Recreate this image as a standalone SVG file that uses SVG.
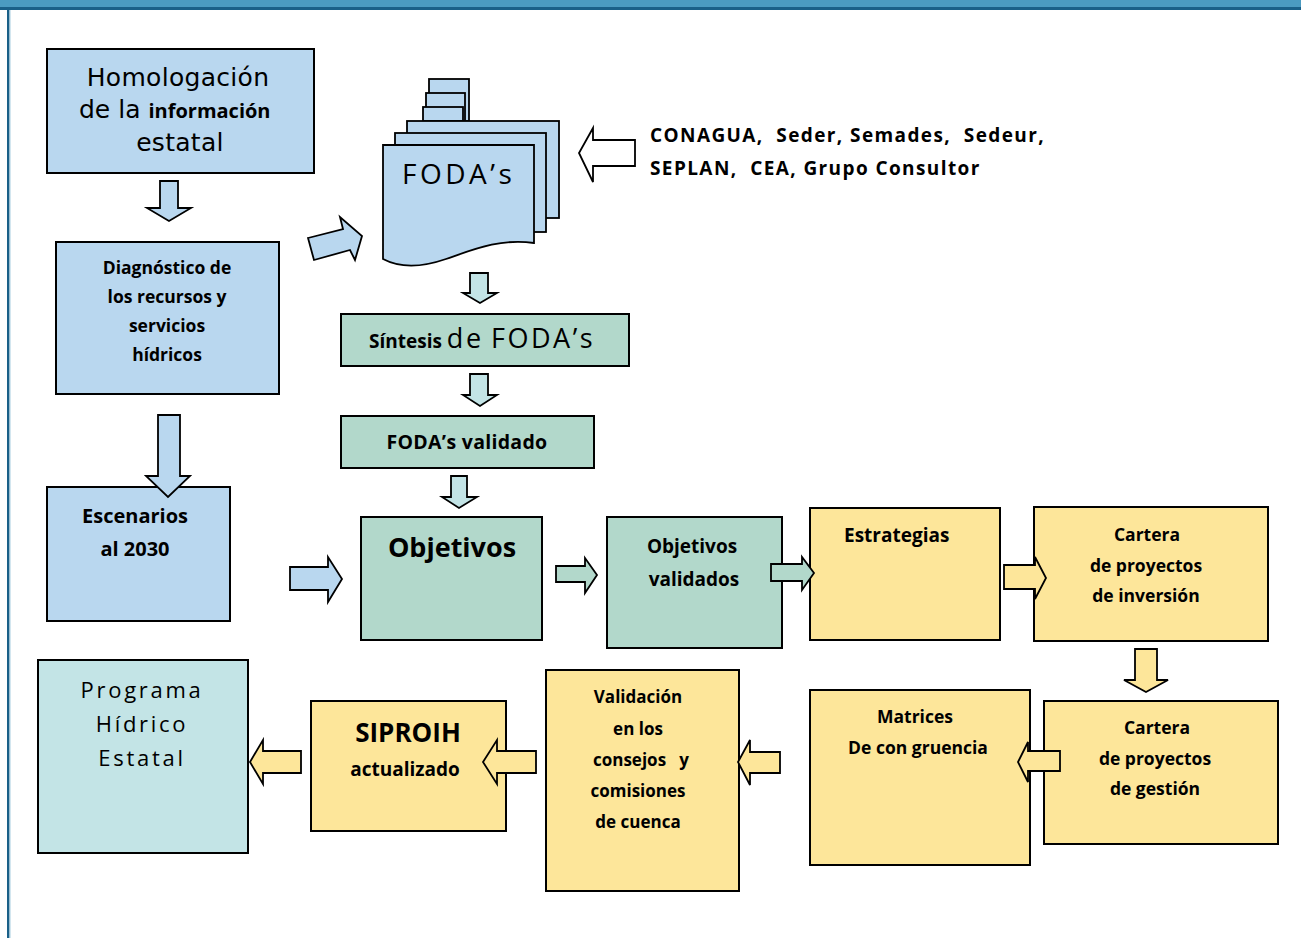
<svg xmlns="http://www.w3.org/2000/svg" width="1301" height="938" viewBox="0 0 1301 938">
<style>
.box{stroke:#000;stroke-width:2}
.blue{fill:#b9d7ef}
.mint{fill:#b2d8cb}
.cyan{fill:#c3e4e6}
.yel{fill:#fde69a}
.arr{stroke:#000;stroke-width:1.8;stroke-linejoin:miter}
.b{font-family:"Open Sans","Noto Sans",sans-serif;font-weight:700;fill:#000}
.r{font-family:"Open Sans","Noto Sans",sans-serif;font-weight:400;fill:#000}
.dv{font-family:"DejaVu Sans",sans-serif;font-weight:400;fill:#000}
.c{text-anchor:middle}
.pre{white-space:pre}
</style>
<rect x="0" y="0" width="1301" height="938" fill="#fff"/>
<rect x="0" y="0" width="1301" height="8" fill="#4b9bc1"/>
<rect x="0" y="7" width="1301" height="3" fill="#1a6088"/>
<rect x="7" y="8" width="2.5" height="930" fill="#1a6088"/>
<rect x="9.5" y="10" width="1" height="928" fill="#a8cde0"/>

<g id="homologacion">
<rect class="box blue" x="47" y="49" width="267" height="124"/>
<text class="dv c" x="178" y="86" font-size="25" letter-spacing="0.3">Homologación</text>
<text x="79" y="118"><tspan class="dv" font-size="25">de la </tspan><tspan class="b" font-size="20">información</tspan></text>
<text class="dv c" x="180" y="151" font-size="25" letter-spacing="0.3">estatal</text>
</g>

<g id="diagnostico">
<rect class="box blue" x="56" y="242" width="223" height="152"/>
<text class="b c" x="167" y="274" font-size="17.5">Diagnóstico de</text>
<text class="b c" x="167" y="303" font-size="17.5">los recursos y</text>
<text class="b c" x="167" y="332" font-size="17.5">servicios</text>
<text class="b c" x="167" y="361" font-size="17.5">hídricos</text>
</g>

<g id="fodas">
<rect class="arr blue" x="429" y="79" width="40" height="42"/>
<rect class="arr blue" x="426" y="93" width="39" height="28"/>
<rect class="arr blue" x="423" y="107" width="40" height="14"/>
<rect class="arr blue" x="407" y="121" width="152" height="97"/>
<rect class="arr blue" x="395" y="133" width="151" height="99"/>
<path class="arr blue" d="M383,145 L534,145 L534,243 C500,238 472,250 446,259 C420,268 400,268 383,259 Z"/>
<text class="r" x="402" y="184" font-size="28" letter-spacing="3.5">FODA’s</text>
</g>

<g id="fuentes">
<text class="b pre" x="650" y="142" font-size="19" letter-spacing="1.4">CONAGUA,  Seder, Semades,  Sedeur,</text>
<text class="b pre" x="650" y="175" font-size="19" letter-spacing="1.4">SEPLAN,  CEA, Grupo Consultor</text>
</g>

<g id="sintesis">
<rect class="box mint" x="341" y="314" width="288" height="52"/>
<text x="369" y="348"><tspan class="b" font-size="19">Síntesis </tspan><tspan class="r" font-size="27" letter-spacing="2.5">de</tspan><tspan class="r" font-size="27" letter-spacing="2.5" dx="-2"> FODA’s</tspan></text>
</g>

<g id="foda-validado">
<rect class="box mint" x="341" y="416" width="253" height="52"/>
<text class="b c" x="467" y="449" font-size="19.5" letter-spacing="0.3">FODA’s validado</text>
</g>

<g id="escenarios">
<rect class="box blue" x="47" y="487" width="183" height="134"/>
<text class="b c" x="135" y="523" font-size="20">Escenarios</text>
<text class="b c" x="135" y="556" font-size="20">al 2030</text>
</g>

<g id="objetivos">
<rect class="box mint" x="361" y="517" width="181" height="123"/>
<text class="b c" x="452" y="557" font-size="27">Objetivos</text>
</g>

<g id="objetivos-validados">
<rect class="box mint" x="607" y="517" width="175" height="131"/>
<text class="b c" x="692" y="553" font-size="19">Objetivos</text>
<text class="b c" x="694" y="586" font-size="19">validados</text>
</g>

<g id="estrategias">
<rect class="box yel" x="810" y="508" width="190" height="132"/>
<text class="b" x="844" y="542" font-size="19">Estrategias</text>
</g>

<g id="cartera-inversion">
<rect class="box yel" x="1034" y="507" width="234" height="134"/>
<text class="b c" x="1147" y="541" font-size="17.5">Cartera</text>
<text class="b c" x="1146" y="572" font-size="17.5">de proyectos</text>
<text class="b c" x="1146" y="602" font-size="17.5">de inversión</text>
</g>

<g id="cartera-gestion">
<rect class="box yel" x="1044" y="701" width="234" height="143"/>
<text class="b c" x="1157" y="734" font-size="17.5">Cartera</text>
<text class="b c" x="1155" y="765" font-size="17.5">de proyectos</text>
<text class="b c" x="1155" y="795" font-size="17.5">de gestión</text>
</g>

<g id="matrices">
<rect class="box yel" x="810" y="690" width="220" height="175"/>
<text class="b c" x="915" y="723" font-size="17.5">Matrices</text>
<text class="b c" x="918" y="754" font-size="17.5">De con gruencia</text>
</g>

<g id="validacion">
<rect class="box yel" x="546" y="670" width="193" height="221"/>
<text class="b c" x="638" y="703" font-size="17">Validación</text>
<text class="b c" x="638" y="735" font-size="17">en los</text>
<text class="b c pre" x="641" y="766" font-size="17">consejos   y</text>
<text class="b c" x="638" y="797" font-size="17">comisiones</text>
<text class="b c" x="638" y="828" font-size="17">de cuenca</text>
</g>

<g id="siproih">
<rect class="box yel" x="311" y="701" width="195" height="130"/>
<text class="b c" x="408" y="742" font-size="26">SIPROIH</text>
<text class="b c" x="405" y="776" font-size="19">actualizado</text>
</g>

<g id="programa">
<rect class="box cyan" x="38" y="660" width="210" height="193"/>
<text class="r c" x="142" y="698" font-size="22" letter-spacing="2.7">Programa</text>
<text class="r c" x="142" y="732" font-size="22" letter-spacing="2.7">Hídrico</text>
<text class="r c" x="142" y="766" font-size="22" letter-spacing="2.7">Estatal</text>
</g>

<g id="connectors">
<polygon class="arr blue" points="160,181 178,181 178,208 191,208 169,221 147,208 160,208"/>
<polygon class="arr blue" points="158,415 180,415 180,476 190,476 168,497 146,476 158,476"/>
<polygon class="arr blue" points="308,238 343,229 340,217 362,236 355,260 350,250 314,260"/>
<polygon class="arr" fill="#fff" points="635,140 593,140 593,128 579,153 593,182 593,166 635,166"/>
<polygon class="arr cyan" points="470,273 488,273 488,293 497,293 480,303 463,293 470,293"/>
<polygon class="arr cyan" points="470,374 488,374 488,395 497,395 480,406 463,395 470,395"/>
<polygon class="arr cyan" points="451,476 467,476 467,497 477,497 459,508 442,497 451,497"/>
<polygon class="arr blue" points="290,567 328,567 328,557 342,579 328,602 328,590 290,590"/>
<polygon class="arr mint" points="556,566 585,566 585,558 597,575 585,593 585,582 556,582"/>
<polygon class="arr mint" points="771,564 802,564 802,557 814,573 802,590 802,581 771,581"/>
<polygon class="arr yel" points="1004,565 1035,565 1035,557 1046,578 1035,599 1035,589 1004,589"/>
<polygon class="arr yel" points="1135,649 1157,649 1157,680 1168,680 1146,692 1124,680 1135,680"/>
<polygon class="arr yel" points="1060,751 1028,751 1028,742 1018,762 1028,782 1028,771 1060,771"/>
<polygon class="arr yel" points="780,752 750,752 750,740 738,762 750,785 750,773 780,773"/>
<polygon class="arr yel" points="536,751 497,751 497,740 483,762 497,784 497,773 536,773"/>
<polygon class="arr yel" points="301,751 263,751 263,740 250,762 263,784 263,773 301,773"/>
</g>
</svg>
